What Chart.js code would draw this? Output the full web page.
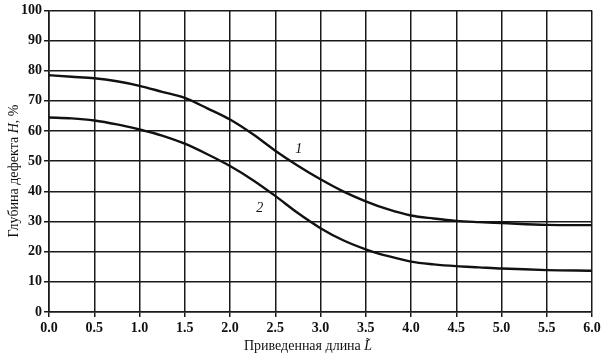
<!DOCTYPE html>
<html>
<head>
<meta charset="utf-8">
<script src="https://cdn.jsdelivr.net/npm/chart.js@4/dist/chart.umd.min.js"></script>
<style>
  html, body { margin: 0; padding: 0; background: #fff; }
  #wrap { width: 605px; height: 362px; position: relative; }
</style>
</head>
<body>
<div id="wrap"><canvas id="chart"></canvas></div>
<script>
// Приведенная длина L (ось X)
const lengths = [0, 0.25, 0.5, 0.75, 1.0, 1.25, 1.5, 1.75, 2.0, 2.25, 2.5, 2.75, 3.0, 3.25, 3.5, 3.75, 4.0, 4.25, 4.5, 4.75, 5.0, 5.5, 6.0];
// Кривая 1
const depth1 = [78.5, 78, 77.5, 76.5, 75, 73, 71, 67.5, 63.8, 59, 53.5, 48.5, 44, 40, 36.7, 34, 32, 31, 30.2, 29.8, 29.5, 28.9, 28.8];
// Кривая 2
const depth2 = [64.5, 64.2, 63.5, 62.2, 60.5, 58.5, 55.8, 52.3, 48.4, 43.8, 38.5, 32.8, 27.8, 23.8, 20.8, 18.5, 16.7, 15.8, 15.2, 14.8, 14.4, 13.9, 13.7];
// подписи кривых: [номер, L, H]
const curveLabels = [['1', 2.76, 54], ['2', 2.33, 34.4]];

const serif = '"Liberation Serif", "DejaVu Serif", serif';
const ink = '#111';

function toPoints(ys) {
    return lengths.map((x, i) => ({ x: x, y: ys[i] }));
}

// подписи осей и номера кривых (с курсивом для H и L)
const titlesPlugin = {
    id: 'titles',
    afterDraw(chart) {
        const ctx = chart.ctx;
        const sx = chart.scales.x, sy = chart.scales.y;
        ctx.save();
        ctx.fillStyle = ink;
        ctx.textBaseline = 'alphabetic';

        // подпись оси X
        const partA = 'Приведенная длина ';
        const partB = 'L\u0303';
        ctx.font = '14px ' + serif;
        const wA = ctx.measureText(partA).width;
        ctx.font = 'italic 14px ' + serif;
        const wB = ctx.measureText(partB).width;
        let x0 = 308 - (wA + wB) / 2;
        ctx.font = '14px ' + serif;
        ctx.textAlign = 'left';
        ctx.fillText(partA, x0, 350);
        ctx.font = 'italic 14px ' + serif;
        ctx.fillText(partB, x0 + wA, 350);

        // подпись оси Y
        const yA = 'Глубина дефекта ', yB = 'H', yC = ', %';
        ctx.translate(18, 171);
        ctx.rotate(-Math.PI / 2);
        ctx.font = '14px ' + serif;
        const a = ctx.measureText(yA).width, c = ctx.measureText(yC).width;
        ctx.font = 'italic 14px ' + serif;
        const b = ctx.measureText(yB).width;
        let p = -(a + b + c) / 2;
        ctx.font = '14px ' + serif;
        ctx.fillText(yA, p, 0);
        ctx.font = 'italic 14px ' + serif;
        ctx.fillText(yB, p + a, 0);
        ctx.font = '14px ' + serif;
        ctx.fillText(yC, p + a + b, 0);
        ctx.setTransform(1, 0, 0, 1, 0, 0);

        // номера кривых
        ctx.font = 'italic 14px ' + serif;
        ctx.textAlign = 'center';
        ctx.textBaseline = 'middle';
        curveLabels.forEach(([t, lx, ly]) => {
            ctx.fillText(t, sx.getPixelForValue(lx), sy.getPixelForValue(ly));
        });
        ctx.restore();
    }
};

const lineStyle = {
    borderColor: ink,
    borderWidth: 2.4,
    pointRadius: 0,
    fill: false,
    cubicInterpolationMode: 'monotone'
};

new Chart(document.getElementById('chart'), {
    type: 'line',
    data: {
        datasets: [
            Object.assign({ label: '1', data: toPoints(depth1) }, lineStyle),
            Object.assign({ label: '2', data: toPoints(depth2) }, lineStyle)
        ]
    },
    options: {
        responsive: true,
        maintainAspectRatio: false,
        animation: false,
        layout: { padding: { top: 7, right: 13, left: 0, bottom: 0 } },
        plugins: {
            legend: { display: false },
            tooltip: { enabled: false }
        },
        scales: {
            x: {
                type: 'linear',
                min: 0,
                max: 6,
                afterFit: (s) => { s.height = 50; },
                ticks: {
                    stepSize: 0.5,
                    color: ink,
                    padding: 3,
                    maxRotation: 0,
                    font: { family: serif, size: 14, weight: 'bold' },
                    callback: (v) => Number(v).toFixed(1)
                },
                grid: { color: '#1a1a1a', lineWidth: 1.5, tickLength: 5, tickColor: '#1a1a1a' },
                border: { color: '#1a1a1a', width: 1.6 }
            },
            y: {
                min: 0,
                max: 100,
                afterFit: (s) => { s.width = 49; },
                ticks: {
                    stepSize: 10,
                    color: ink,
                    padding: 2,
                    font: { family: serif, size: 14, weight: 'bold' }
                },
                grid: { color: '#1a1a1a', lineWidth: 1.5, tickLength: 5, tickColor: '#1a1a1a' },
                border: { color: '#1a1a1a', width: 1.6 }
            }
        }
    },
    plugins: [titlesPlugin]
});
</script>
</body>
</html>
